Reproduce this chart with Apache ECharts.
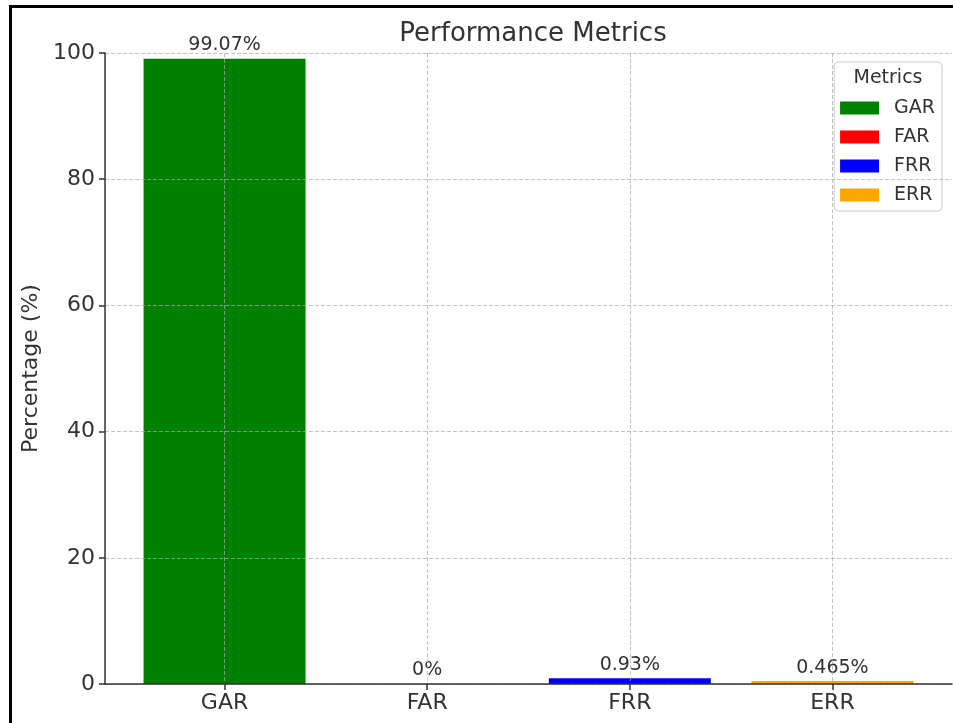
<!DOCTYPE html>
<html>
<head>
<meta charset="utf-8">
<script src="https://cdn.jsdelivr.net/npm/echarts@6/dist/echarts.min.js"></script>
<style>
  html, body { margin: 0; padding: 0; background: #fff; }
  #chart { position: absolute; left: 0; top: 0; width: 953px; height: 723px; }
  #frame { position: absolute; left: 9px; top: 5px; width: 944px; height: 718px;
           border-left: 3px solid #000; border-top: 3px solid #000; box-sizing: border-box;
           pointer-events: none; }
</style>
</head>
<body>
<div id="chart"></div>
<div id="frame"></div>
<script>
// Metric names and their percentages
const categories = ['GAR', 'FAR', 'FRR', 'ERR'];
const values = [99.07, 0, 0.93, 0.465];
const barColors = ['#008000', '#ff0000', '#0000ff', '#ffa500'];
const yTicks = [0, 20, 40, 60, 80, 100];

const FONT = 'DejaVu Sans';
const TEXT = '#333333';
const GRID_LINE = { type: [4, 2], color: 'rgba(170,170,170,0.7)', width: 1 };

const chart = echarts.init(document.getElementById('chart'), null, { renderer: 'canvas' });

// One series per metric so each gets its own legend entry
const series = categories.map((name, i) => ({
  name: name,
  type: 'bar',
  stack: 'metrics',
  barWidth: 162,
  itemStyle: { color: barColors[i] },
  label: {
    show: true,
    position: 'top',
    distance: 4,
    fontFamily: FONT,
    fontSize: 19,
    color: TEXT,
    formatter: p => p.value[1] + '%'
  },
  data: [[i, values[i]]]
}));

chart.setOption({
  animation: false,
  textStyle: { fontFamily: FONT },
  title: {
    text: 'Performance Metrics',
    left: 528,
    textAlign: 'center',
    top: 16,
    textStyle: { fontFamily: FONT, fontSize: 26, fontWeight: 'normal', color: TEXT }
  },
  grid: { left: 105, right: 1, top: 53, bottom: 39, containLabel: false },
  xAxis: {
    type: 'value',
    min: -0.59,
    max: 3.59,
    z: 5,
    axisLine: { show: true, onZero: false, lineStyle: { color: '#333', width: 1.5 } },
    axisTick: { show: true, customValues: categories.map((c, i) => i), length: 6, inside: false,
                lineStyle: { color: '#333', width: 1.5 } },
    axisLabel: { customValues: categories.map((c, i) => i), formatter: v => categories[v] ?? '',
                 fontFamily: FONT, fontSize: 22, color: TEXT, margin: 8 },
    splitLine: { show: true, lineStyle: GRID_LINE }
  },
  yAxis: {
    type: 'value',
    min: yTicks[0],
    max: yTicks[yTicks.length - 1],
    interval: 20,
    z: 5,
    name: 'Percentage (%)',
    nameLocation: 'middle',
    nameGap: 59,
    nameTextStyle: { fontFamily: FONT, fontSize: 22, color: TEXT },
    axisLine: { show: true, onZero: false, lineStyle: { color: '#333', width: 1.5 } },
    axisTick: { show: true, length: 6, inside: false, lineStyle: { color: '#333', width: 1.5 } },
    axisLabel: { fontFamily: FONT, fontSize: 22, color: TEXT, margin: 10 },
    splitLine: { show: true, lineStyle: GRID_LINE }
  },
  legend: {
    orient: 'vertical',
    right: 11,
    top: 62,
    padding: [36, 7, 6, 6],
    itemGap: 9,
    itemWidth: 39,
    itemHeight: 13,
    icon: 'rect',
    backgroundColor: 'rgba(255,255,255,0.85)',
    borderColor: '#cccccc',
    borderWidth: 1,
    borderRadius: 4,
    textStyle: { fontFamily: FONT, fontSize: 19, color: TEXT, lineHeight: 20, padding: [0, 0, 0, 10] },
    data: categories
  },
  graphic: [{
    type: 'text',
    z: 100,
    x: 888,
    y: 78,
    style: { text: 'Metrics', align: 'center', verticalAlign: 'middle',
             font: '19px "DejaVu Sans"', fill: TEXT }
  }],
  series: series
});
</script>
</body>
</html>
